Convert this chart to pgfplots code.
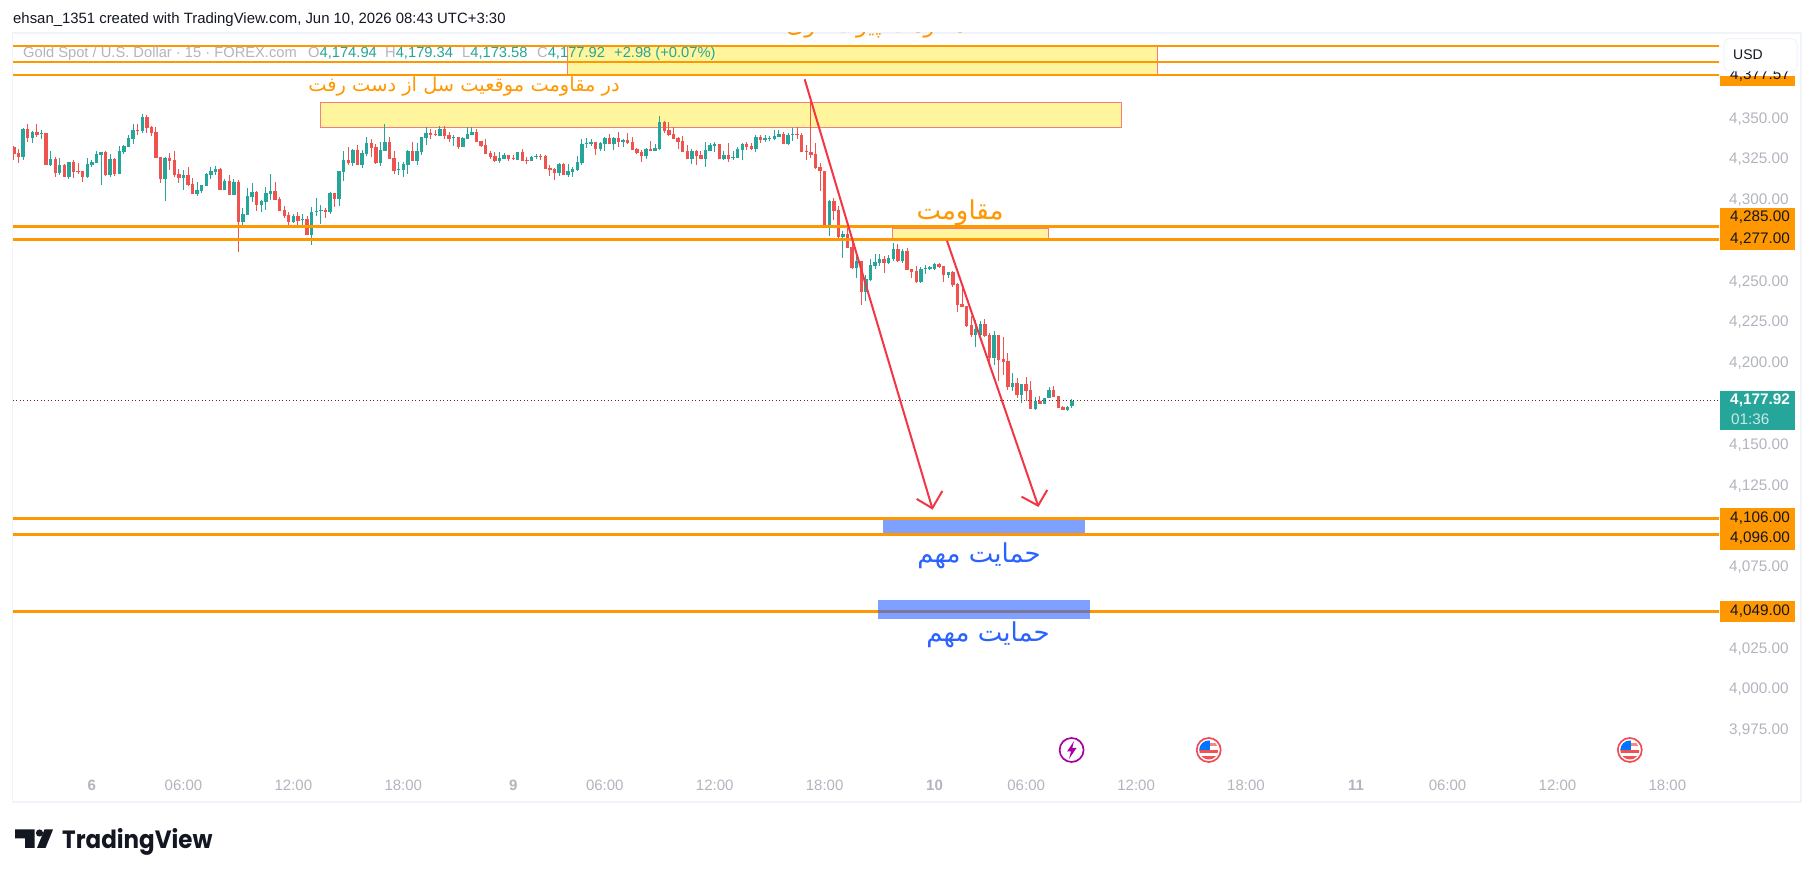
\documentclass[border=0pt]{standalone}
\usepackage{fontspec}
\usepackage{graphicx}
\usepackage{pgfplots}
\usepackage{pgfplotstable}
\pgfplotsset{compat=1.18}
\setmainfont{Liberation Sans}
\newfontfamily\arabicfont[Script=Arabic]{DejaVu Sans}
\newfontfamily\logofont{Poppins}
\TeXXeTstate=1
\definecolor{upc}{HTML}{26A69A}
\definecolor{dnc}{HTML}{EF5350}
\definecolor{orng}{HTML}{FF9800}
\definecolor{yel}{HTML}{FFF59D}
\definecolor{pink}{HTML}{F77C80}
\definecolor{bluz}{HTML}{2962FF}
\definecolor{arrw}{HTML}{F23645}
\definecolor{tvg}{HTML}{B2B5BE}
\definecolor{frm}{HTML}{F0F3FA}
\definecolor{ink}{HTML}{131722}
\newcommand\fs[1]{\fontsize{#1}{#1}\selectfont}
\pgfplotstableread{
i o h l c
0 4333.8 4334.4 4325.8 4329.5
1 4330.1 4332.6 4324.0 4327.7
3 4344.9 4347.4 4336.9 4339.4
5 4343.0 4348.0 4340.0 4341.2
7 4342.4 4342.4 4322.7 4322.7
9 4326.4 4327.7 4315.3 4317.8
11 4322.7 4323.3 4315.3 4315.3
13 4324.6 4325.8 4314.7 4318.4
14 4319.0 4324.0 4317.2 4318.4
15 4319.0 4319.0 4312.3 4315.3
20 4330.7 4331.3 4316.0 4316.6
22 4326.4 4327.0 4316.0 4317.2
27 4344.3 4347.4 4341.2 4343.7
29 4351.7 4353.5 4342.4 4345.5
30 4346.1 4346.7 4340.6 4342.4
31 4343.0 4346.1 4327.0 4327.0
32 4327.7 4327.7 4311.7 4314.1
34 4327.0 4330.1 4319.7 4325.2
35 4325.8 4331.3 4315.3 4316.6
36 4317.2 4320.3 4311.7 4314.7
38 4316.6 4321.5 4309.8 4310.4
39 4311.0 4314.7 4304.9 4304.9
45 4320.3 4320.9 4307.3 4307.3
47 4312.9 4316.6 4304.3 4304.3
49 4312.3 4313.5 4269.2 4287.7
53 4306.1 4306.7 4294.4 4298.1
57 4306.7 4312.3 4301.2 4301.2
58 4301.8 4303.0 4294.4 4294.4
59 4295.0 4297.5 4290.1 4291.3
60 4292.0 4293.8 4285.8 4287.7
62 4291.3 4293.8 4285.8 4288.3
64 4289.5 4291.3 4279.7 4279.7
68 4295.0 4296.3 4290.1 4293.8
70 4305.5 4305.5 4296.9 4301.8
73 4325.8 4333.8 4322.7 4324.0
75 4332.0 4335.0 4322.7 4322.7
78 4336.3 4338.7 4327.7 4333.2
79 4333.8 4335.7 4323.3 4324.0
82 4336.9 4340.0 4326.4 4326.4
83 4327.0 4331.3 4317.2 4319.0
87 4331.3 4336.9 4325.2 4325.2
91 4342.4 4344.9 4338.7 4341.2
92 4341.8 4344.3 4340.6 4341.2
94 4344.9 4346.7 4338.7 4340.6
95 4341.2 4343.0 4336.9 4338.7
97 4340.0 4340.0 4332.6 4333.8
101 4343.0 4344.9 4336.9 4336.9
102 4337.5 4337.5 4333.8 4334.4
103 4335.0 4338.7 4329.5 4329.5
104 4330.1 4331.3 4326.4 4327.7
105 4328.3 4330.7 4324.6 4325.2
108 4328.9 4328.9 4325.2 4326.4
109 4327.0 4328.9 4325.8 4326.4
111 4330.7 4332.6 4325.2 4325.2
112 4325.8 4327.7 4323.3 4325.2
115 4328.3 4329.5 4325.8 4327.7
116 4328.3 4328.9 4320.3 4320.3
117 4320.9 4322.7 4316.0 4319.7
118 4320.3 4320.9 4313.5 4317.8
120 4323.3 4324.0 4316.6 4316.6
127 4336.9 4336.9 4328.9 4332.6
130 4339.4 4341.8 4335.7 4335.7
132 4339.4 4343.0 4333.8 4336.9
134 4338.1 4342.4 4335.7 4336.3
135 4336.9 4340.0 4332.0 4332.0
136 4332.6 4333.2 4329.5 4330.1
137 4330.7 4332.0 4324.6 4328.3
139 4332.6 4337.5 4331.3 4331.3
142 4349.2 4349.8 4342.4 4343.7
143 4344.3 4349.2 4340.6 4341.2
144 4341.8 4346.1 4338.7 4338.7
145 4339.4 4340.0 4332.6 4336.9
146 4337.5 4340.6 4330.7 4330.7
147 4331.3 4335.0 4326.4 4326.4
149 4331.3 4332.0 4322.7 4328.3
150 4328.9 4331.3 4326.4 4326.4
154 4335.7 4335.7 4326.4 4326.4
156 4328.9 4336.3 4324.6 4326.4
160 4335.7 4336.9 4332.0 4333.8
161 4334.4 4336.3 4332.0 4332.6
163 4340.0 4341.2 4336.3 4338.1
168 4341.8 4343.0 4335.7 4335.7
171 4341.8 4346.1 4338.7 4341.2
172 4341.2 4342.4 4330.7 4330.7
173 4331.3 4335.0 4325.8 4330.7
174 4330.7 4361.7 4327.0 4328.9
175 4329.5 4336.1 4320.3 4320.9
176 4321.5 4323.8 4306.9 4318.6
177 4319.0 4319.0 4285.2 4285.2
179 4300.6 4302.4 4288.9 4294.4
180 4295.0 4297.5 4277.2 4278.4
182 4280.3 4286.4 4271.7 4271.7
183 4272.3 4277.2 4258.7 4259.3
185 4263.7 4263.7 4236.6 4244.6
190 4264.9 4266.7 4256.3 4262.4
193 4271.0 4274.1 4263.0 4263.7
195 4269.8 4271.7 4258.1 4258.1
196 4258.7 4258.7 4253.2 4256.9
197 4257.5 4260.6 4250.1 4250.7
202 4261.8 4262.4 4259.3 4260.0
203 4260.6 4260.6 4250.7 4255.0
205 4256.9 4257.5 4247.7 4248.9
206 4249.5 4250.1 4232.3 4236.6
207 4237.2 4247.7 4235.3 4235.3
208 4236.0 4236.0 4223.0 4223.7
209 4224.3 4229.8 4216.9 4218.1
212 4224.9 4228.0 4216.9 4217.5
213 4218.1 4219.3 4199.0 4204.0
215 4218.1 4218.1 4190.4 4202.7
216 4203.4 4216.9 4193.5 4201.5
217 4202.1 4207.0 4184.3 4186.7
219 4188.6 4191.7 4179.4 4181.8
221 4188.0 4192.3 4178.1 4183.7
222 4184.3 4190.4 4173.2 4173.2
224 4178.1 4181.2 4176.3 4176.3
227 4184.9 4187.3 4180.6 4180.6
228 4181.2 4181.2 4173.8 4173.8
229 4174.4 4175.0 4172.6 4172.6
}\downbars
\pgfplotstableread{
i o h l c
2 4327.7 4345.5 4325.8 4344.9
4 4339.4 4343.7 4336.3 4343.0
6 4341.8 4344.3 4338.7 4342.4
8 4322.7 4331.3 4322.1 4326.4
10 4317.8 4327.0 4316.6 4322.7
12 4315.3 4324.6 4314.1 4324.6
16 4315.3 4327.0 4314.7 4323.3
17 4322.7 4325.8 4321.5 4324.6
18 4324.0 4331.3 4324.0 4329.5
19 4328.9 4330.7 4310.4 4330.7
21 4316.6 4329.5 4315.3 4326.4
23 4317.2 4334.4 4317.2 4331.3
24 4330.7 4335.0 4329.5 4334.4
25 4333.8 4341.2 4333.8 4339.4
26 4338.7 4347.4 4335.7 4344.3
28 4343.7 4354.1 4342.4 4351.7
33 4314.1 4327.7 4300.6 4327.0
37 4314.7 4319.7 4307.3 4316.6
40 4304.9 4312.3 4303.7 4307.3
41 4306.7 4310.4 4305.5 4310.4
42 4309.8 4317.8 4309.8 4317.2
43 4316.6 4321.5 4314.1 4319.0
44 4318.4 4322.1 4316.6 4320.3
46 4307.3 4314.1 4307.3 4312.9
48 4304.3 4314.1 4304.3 4312.3
50 4287.7 4296.3 4285.2 4292.6
51 4292.0 4308.6 4292.0 4303.7
52 4303.0 4311.7 4300.0 4306.1
54 4298.1 4301.2 4293.8 4300.6
55 4300.0 4309.2 4295.0 4305.5
56 4304.9 4317.2 4301.2 4306.7
61 4287.7 4292.6 4287.0 4291.3
63 4288.9 4292.6 4284.6 4289.5
65 4279.7 4296.9 4273.5 4293.8
66 4293.8 4302.4 4291.3 4294.4
67 4294.4 4298.1 4286.4 4295.0
69 4293.8 4306.1 4292.6 4305.5
71 4301.8 4319.0 4297.5 4319.0
72 4318.4 4331.3 4312.9 4325.8
74 4324.0 4332.6 4322.1 4332.0
76 4322.7 4332.0 4320.9 4330.1
77 4329.5 4340.0 4328.3 4336.3
80 4324.0 4336.9 4322.1 4332.0
81 4331.3 4347.4 4331.3 4336.9
84 4319.7 4324.6 4316.6 4320.3
85 4319.7 4324.6 4315.3 4323.3
86 4322.7 4332.0 4317.2 4331.3
88 4325.2 4336.3 4322.7 4331.3
89 4330.7 4340.0 4328.9 4340.0
90 4339.4 4346.1 4335.0 4342.4
93 4340.6 4346.7 4340.6 4344.9
96 4339.4 4341.2 4334.4 4340.0
98 4333.8 4340.0 4333.8 4339.4
99 4338.7 4346.1 4338.7 4341.8
100 4341.2 4346.1 4341.2 4343.0
106 4325.2 4330.7 4324.0 4327.0
107 4326.4 4330.1 4326.4 4328.9
110 4325.8 4330.7 4325.8 4330.7
113 4325.2 4328.3 4325.2 4327.7
114 4327.7 4329.5 4326.4 4328.3
119 4317.8 4324.0 4316.0 4323.3
121 4316.6 4323.3 4315.3 4319.0
122 4318.4 4321.5 4315.3 4320.3
123 4319.7 4328.3 4319.0 4324.6
124 4324.0 4338.7 4322.7 4335.7
125 4335.7 4339.4 4333.2 4336.3
126 4335.7 4338.7 4334.4 4336.9
128 4332.6 4336.9 4331.3 4336.3
129 4335.7 4340.0 4331.3 4339.4
131 4335.7 4340.0 4332.0 4339.4
133 4336.9 4338.7 4333.8 4338.1
138 4328.3 4333.2 4326.4 4332.6
140 4331.3 4335.7 4331.3 4333.2
141 4332.6 4352.3 4332.0 4349.2
148 4326.4 4332.6 4323.3 4331.3
151 4326.4 4336.9 4321.5 4332.0
152 4331.3 4336.3 4331.3 4335.0
153 4334.4 4336.9 4330.7 4335.7
155 4326.4 4331.3 4325.8 4328.9
157 4327.0 4331.3 4325.8 4327.7
158 4327.0 4333.8 4327.0 4332.6
159 4332.0 4336.3 4325.8 4335.7
162 4332.6 4341.2 4330.7 4340.0
164 4338.1 4341.2 4336.9 4339.4
165 4338.7 4340.6 4337.5 4339.4
166 4338.7 4344.3 4338.1 4340.6
167 4340.0 4344.3 4340.0 4341.8
169 4335.7 4342.4 4335.0 4341.2
170 4341.2 4345.3 4337.1 4341.8
178 4285.2 4301.2 4279.0 4300.6
181 4278.4 4282.1 4265.3 4280.3
184 4259.3 4266.7 4253.2 4263.7
186 4244.6 4255.0 4239.0 4252.6
187 4252.0 4264.9 4251.3 4261.2
188 4260.6 4268.0 4258.7 4263.0
189 4262.4 4268.0 4260.6 4264.9
191 4262.4 4267.3 4261.8 4265.5
192 4264.9 4274.7 4263.7 4271.0
194 4263.7 4271.0 4262.4 4269.8
198 4250.7 4260.0 4250.1 4258.7
199 4258.7 4261.2 4255.7 4259.3
200 4258.7 4260.6 4258.1 4260.0
201 4258.7 4262.4 4258.1 4261.8
204 4255.0 4256.9 4253.2 4256.9
210 4218.1 4227.4 4210.7 4221.8
211 4218.1 4226.7 4216.9 4224.9
214 4204.0 4220.6 4199.7 4218.1
218 4186.7 4195.3 4183.7 4188.6
220 4181.8 4188.0 4176.9 4188.0
223 4173.2 4180.6 4172.6 4178.1
225 4176.3 4180.0 4176.3 4180.0
226 4179.4 4186.7 4179.4 4184.9
230 4172.6 4175.0 4172.0 4174.4
231 4174.94 4179.34 4173.58 4177.92
}\upbars
\newcommand\candles[2]{%
  \addplot[draw=none,mark=none,forget plot,error bars/.cd,y dir=both,y explicit,error mark=none,
    error bar style={draw=#2,solid,line width=1pt}]
    table[x=i,y=c,y error plus expr=\thisrow{h}-\thisrow{c},y error minus expr=\thisrow{c}-\thisrow{l}]{#1};
  \addplot[draw=none,mark=none,forget plot,error bars/.cd,y dir=both,y explicit,error mark=none,
    error bar style={draw=#2,solid,line width=3.4pt}]
    table[x=i,y=o,y error plus expr=\thisrow{c}-\thisrow{o},y error minus expr=0]{#1};
}
\newcommand\hl[2]{\addplot[forget plot,orng,line width=#2] coordinates {(-1,#1) (373,#1)};}
\newcommand\usflag[2]{%
  \begin{scope}
    \fill[white] (#1,#2) circle (12);
    \clip (#1,#2) circle (9.5);
    \fill[dnc] (#1-10,#2) rectangle (#1+10,#2+3);
    \fill[dnc] (#1-10,#2+6) rectangle (#1+10,#2+10);
    \fill[dnc!70] (#1,#2-4) rectangle (#1+10,#2-7);
    \fill[blue!55!cyan] (#1-10,#2-10) rectangle (#1+1,#2);
  \end{scope}
  \draw[arrw!90,line width=1.7pt] (#1,#2) circle (12);
}
\newcommand\plabel[4]{%
  \fill[orng] (1720,#1) rectangle (1795,#2);
  \node[text=ink,font=\fs{15.3}] at (1760,#3) {#4};
}
\begin{document}
\begin{tikzpicture}[x=1pt,y=1pt]
\useasboundingbox (0,0) rectangle (1814pt,877pt);
\fill[white] (0,0) rectangle (1814pt,877pt);
\begin{axis}[
  at={(13pt,75pt)},anchor=south west,scale only axis,
  width=1706pt,height=769pt,
  xmin=-0.218,xmax=372.28,ymin=3932,ymax=4403.5,
  axis line style={draw=none},tick style={draw=none},major tick length=0pt,
  ytick pos=right,yticklabel pos=right,xticklabel pos=lower,
  ytick={3975,4000,4025,4075,4125,4150,4200,4225,4250,4300,4325,4350},
  xtick={17,37,61,85,109,129,153,177,201,221,245,269,293,313,337,361},
  xticklabels={{\bfseries 6},06:00,12:00,18:00,{\bfseries 9},06:00,12:00,18:00,{\bfseries 10},06:00,12:00,18:00,{\bfseries 11},06:00,12:00,18:00},
  yticklabel style={anchor=west,xshift=6.5pt,yshift=1.5pt,text=tvg,font=\fs{15.3},
    /pgf/number format/.cd,fixed,fixed zerofill,precision=2,1000 sep={,},assume math mode=true},
  xticklabel style={anchor=center,yshift=17pt,text=tvg,font=\fs{15}},
]
% zones
\addplot[forget plot,fill=yel,draw=pink,line width=1pt] coordinates {(120.8,4395.4) (249.6,4395.4) (249.6,4378) (120.8,4378)} --cycle;
\addplot[forget plot,fill=yel,draw=pink,line width=1pt] coordinates {(66.9,4361) (241.8,4361) (241.8,4345.7) (66.9,4345.7)} --cycle;
\addplot[forget plot,fill=yel,draw=pink,line width=1pt] coordinates {(191.8,4283.8) (225.9,4283.8) (225.9,4277.4) (191.8,4277.4)} --cycle;
% candles
\candles{\upbars}{upc}
\candles{\downbars}{dnc}
% last price
\addplot[forget plot,color=black!55!dnc,line width=1pt,dash pattern=on 1pt off 2.5pt] coordinates {(-1,4177.92) (373,4177.92)};
% horizontal levels
\hl{4395.7}{2.3pt}
\hl{4385.9}{2.3pt}
\hl{4377.57}{2.3pt}
\hl{4285}{3pt}
\hl{4277}{3pt}
\hl{4106}{2.8pt}
\hl{4096}{2.8pt}
\hl{4049}{2.8pt}
% blue zones
\addplot[forget plot,fill=bluz,fill opacity=0.6,draw=none] coordinates {(189.8,4105) (233.9,4105) (233.9,4096.8) (189.8,4096.8)} --cycle;
\addplot[forget plot,fill=bluz,fill opacity=0.6,draw=none] coordinates {(188.7,4055.9) (235,4055.9) (235,4044.2) (188.7,4044.2)} --cycle;
% arrows
\addplot[forget plot,arrw,line width=2pt] coordinates {(172.64,4375.1) (200.5,4112.1)};
\addplot[forget plot,arrw,line width=2pt] coordinates {(197.1,4117.8) (200.5,4112.1) (202.7,4122.7)};
\addplot[forget plot,arrw,line width=2pt] coordinates {(203.7,4276.2) (223.6,4113.7)};
\addplot[forget plot,arrw,line width=2pt] coordinates {(220,4119.2) (223.6,4113.7) (225.6,4123.3)};
\end{axis}
% chrome, in image pixels (y downward)
\begin{scope}[x=1pt,y=-1pt,yshift=877pt]
\draw[frm,line width=1.5pt] (12.5,33) rectangle (1801,802);
\node[anchor=west,text=ink,font=\fs{14.9},inner sep=0pt] at (13,20) {ehsan\_1351 created with TradingView.com, Jun 10, 2026 08:43 UTC+3:30};
% legend row
\begin{scope}[every node/.style={anchor=west,inner sep=0pt,font=\fs{14.7}}]
\node[text=tvg] at (23,53.5) {Gold Spot / U.S. Dollar · 15 · FOREX.com};
\node[text=tvg] at (308,53.5) {O\textcolor{upc}{4,174.94}};
\node[text=tvg] at (385,53.5) {H\textcolor{upc}{4,179.34}};
\node[text=tvg] at (462,53.5) {L\textcolor{upc}{4,173.58}};
\node[text=tvg] at (537,53.5) {C\textcolor{upc}{4,177.92}};
\node[text=upc] at (614,53.5) {+2.98 (+0.07\%)};
\end{scope}
% persian annotations
\begin{scope}
\clip (700,33) rectangle (1000,60);
\node[text=orng,font=\arabicfont\fs{23},inner sep=0pt] at (876,27) {\beginR مقاومت پیوت قوی\endR};
\end{scope}
\node[text=orng,font=\arabicfont\fs{19.4},inner sep=0pt] at (464,87) {\beginR در مقاومت موقعیت سل از دست رفت\endR};
\node[text=orng,font=\arabicfont\fs{26},inner sep=0pt] at (960,213) {\beginR مقاومت\endR};
\node[text=bluz,font=\arabicfont\fs{26},inner sep=0pt] at (979,556) {\beginR حمایت مهم\endR};
\node[text=bluz,font=\arabicfont\fs{26},inner sep=0pt] at (988,635) {\beginR حمایت مهم\endR};
% price labels
\plabel{208}{228.5}{217.5}{4,285.00}
\plabel{228.5}{250}{239}{4,277.00}
\plabel{508}{528.5}{518}{4,106.00}
\plabel{528.5}{550}{538.3}{4,096.00}
\plabel{601}{622}{611}{4,049.00}
\fill[orng] (1720,76) rectangle (1795,85.7);
\begin{scope}
\clip (1720,71.5) rectangle (1795,90);
\node[text=ink,font=\fs{15.3}] at (1760,75) {4,377.57};
\end{scope}
\fill[upc] (1720,391) rectangle (1795,429.7);
\node[text=white,font=\fs{15.3}\bfseries,inner sep=0pt] at (1760,400.7) {4,177.92};
\node[text=white!75!upc,font=\fs{15.3},anchor=west,inner sep=0pt] at (1731,419) {01:36};
% currency button
\fill[white,draw=frm,line width=1pt,rounded corners=5pt] (1724,38.7) rectangle (1797,71);
\node[text=ink,font=\fs{14}] at (1748,54.3) {USD};
% events
\fill[white] (1071.6,750) circle (12);
\draw[violet!70!magenta,line width=1.7pt] (1071.6,750) circle (12);
\fill[violet!70!magenta] (1074,741) -- (1067,751.5) -- (1071,751.5) -- (1069,759) -- (1076.5,748) -- (1072.3,748) -- cycle;
\usflag{1208.7}{750}
\usflag{1629.8}{750}
% logo
\fill[ink] (15,829.5) -- (34.5,829.5) -- (34.5,848) -- (25,848) -- (25,838.5) -- (15,838.5) -- cycle;
\fill[ink] (39.5,833) circle (3.6);
\fill[ink] (44.5,829.5) -- (53,829.5) -- (45.5,848) -- (37,848) -- cycle;
\node[anchor=base west,text=ink,font=\logofont\bfseries\fs{25},inner sep=0pt] at (62,848.3) {\scalebox{0.92}[1]{TradingView}};
\end{scope}
\end{tikzpicture}
\end{document}
